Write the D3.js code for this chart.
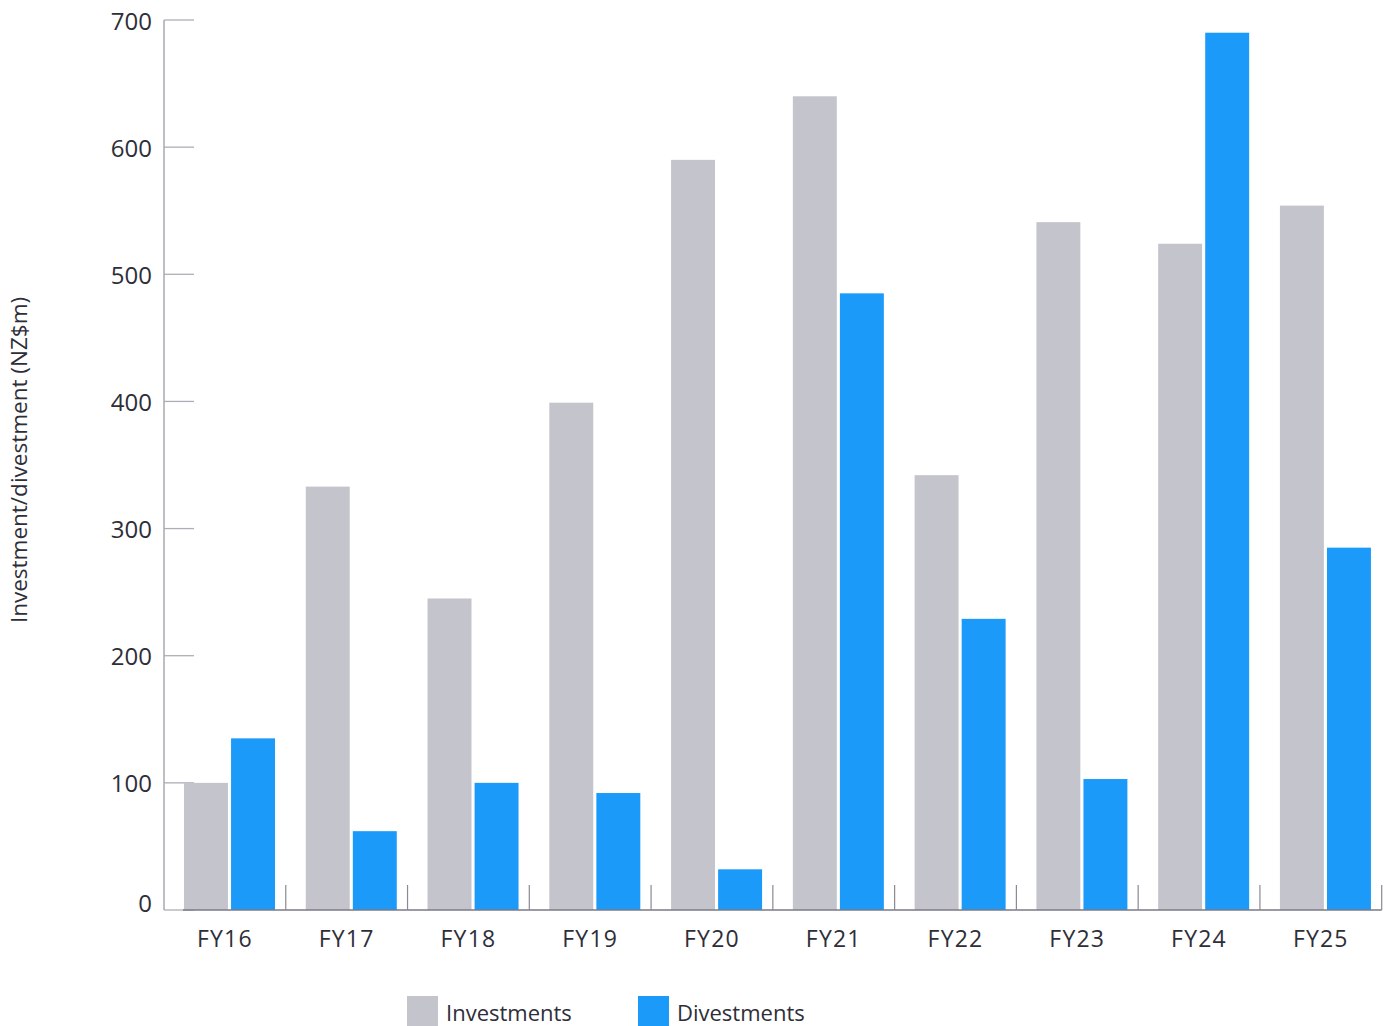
<!DOCTYPE html>
<html>
<head>
<meta charset="utf-8">
<script src="https://cdn.jsdelivr.net/npm/d3@7"></script>
<style>
  html, body { margin: 0; padding: 0; background: #ffffff; }
  svg { display: block; font-family: "Open Sans", "Noto Sans", sans-serif; }
</style>
</head>
<body>
<svg id="chart" width="1393" height="1026"></svg>
<script>
// Financial years shown on the x axis
const categories = ["FY16", "FY17", "FY18", "FY19", "FY20", "FY21", "FY22", "FY23", "FY24", "FY25"];
// Series values, NZ$m
const investments = [100, 333, 245, 399, 590, 640, 342, 541, 524, 554];
const divestments = [135, 62, 100, 92, 32, 485, 229, 103, 690, 285];
// Y axis ticks
const yTicks = [0, 100, 200, 300, 400, 500, 600, 700];
const seriesNames = ["Investments", "Divestments"];
const seriesColors = ["#c4c4cc", "#1b9afa"];

const svg = d3.select("#chart");
const plotLeft = 164, plotRight = 1381.7, plotTop = 20, plotBottom = 910;

const x0 = d3.scaleBand().domain(categories).range([plotLeft, plotRight]).padding(0);
const x1 = d3.scaleBand().domain(seriesNames).range([20, 111]).paddingInner(0.066).paddingOuter(0);
const y = d3.scaleLinear().domain([0, 700]).range([plotBottom, plotTop]);
const color = d3.scaleOrdinal().domain(seriesNames).range(seriesColors);

// Horizontal tick marks pointing into the plot, drawn beneath the bars
svg.append("g")
  .selectAll("line")
  .data(yTicks)
  .join("line")
  .attr("x1", plotLeft).attr("x2", plotLeft + 30)
  .attr("y1", d => y(d)).attr("y2", d => y(d))
  .attr("stroke", "#aeaeb6").attr("stroke-width", 1.3);

// Bars
const rows = categories.map((c, i) => ({ cat: c, values: [investments[i], divestments[i]] }));
svg.append("g")
  .selectAll("g")
  .data(rows)
  .join("g")
  .attr("transform", d => `translate(${x0(d.cat)},0)`)
  .selectAll("rect")
  .data(d => seriesNames.map((s, j) => ({ key: s, value: d.values[j] })))
  .join("rect")
  .attr("x", d => x1(d.key))
  .attr("width", x1.bandwidth())
  .attr("y", d => y(d.value))
  .attr("height", d => y(0) - y(d.value))
  .attr("fill", d => color(d.key));

// Y axis line
svg.append("line")
  .attr("x1", plotLeft).attr("x2", plotLeft)
  .attr("y1", plotTop).attr("y2", plotBottom)
  .attr("stroke", "#a9a9b1").attr("stroke-width", 1.5);

// X axis baseline
svg.append("line")
  .attr("x1", plotLeft + 19).attr("x2", plotRight)
  .attr("y1", plotBottom).attr("y2", plotBottom)
  .attr("stroke", "#7b7a86").attr("stroke-width", 1.5);

// Separators between categories
svg.append("g")
  .selectAll("line")
  .data(categories)
  .join("line")
  .attr("x1", d => x0(d) + x0.bandwidth()).attr("x2", d => x0(d) + x0.bandwidth())
  .attr("y1", plotBottom - 25).attr("y2", plotBottom)
  .attr("stroke", "#8a8994").attr("stroke-width", 1.2);

// Y tick labels
svg.append("g")
  .selectAll("text")
  .data(yTicks)
  .join("text")
  .attr("x", 152)
  .attr("y", d => y(d) + (d === 0 ? -7 : 1))
  .attr("dy", "0.36em")
  .attr("text-anchor", "end")
  .attr("font-size", 24)
  .attr("fill", "#2e2e38")
  .text(d => d);

// X tick labels
svg.append("g")
  .selectAll("text")
  .data(categories)
  .join("text")
  .attr("x", d => x0(d) + x0.bandwidth() / 2)
  .attr("y", 946.5)
  .attr("text-anchor", "middle")
  .attr("font-size", 23)
  .attr("letter-spacing", 1.2)
  .attr("fill", "#2e2e38")
  .text(d => d);

// Y axis title
svg.append("text")
  .attr("transform", "translate(27,460) rotate(-90)")
  .attr("text-anchor", "middle")
  .attr("font-size", 22.5)
  .attr("fill", "#2e2e38")
  .text("Investment/divestment (NZ$m)");

// Legend
const legendX = [407, 638];
const legend = svg.append("g")
  .selectAll("g")
  .data(seriesNames)
  .join("g")
  .attr("transform", (d, i) => `translate(${legendX[i]},996)`);
legend.append("rect")
  .attr("width", 31).attr("height", 30)
  .attr("fill", d => color(d));
legend.append("text")
  .attr("x", 39).attr("y", 24.5)
  .attr("font-size", 22)
  .attr("fill", "#2e2e38")
  .text(d => d);
</script>
</body>
</html>
